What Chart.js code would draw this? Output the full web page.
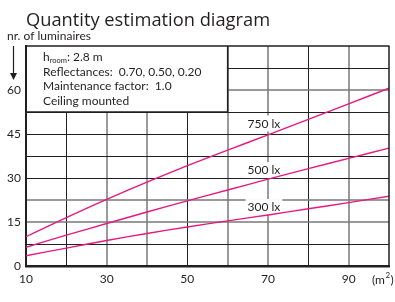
<!DOCTYPE html>
<html><head><meta charset="utf-8">
<script src="https://cdn.jsdelivr.net/npm/chart.js@4/dist/chart.umd.min.js"></script>
<style>html,body{margin:0;padding:0;background:#fff;}#wrap{width:395px;height:302px;position:relative}</style>
</head><body><div id="wrap"><canvas id="c" width="395" height="302"></canvas></div>
<script>
// ---- data ----
const areas   = [10, 20, 30, 40, 50, 60, 70, 80, 90, 100];
const lux750  = [10.0, 16.5, 22.7, 28.6, 34.2, 39.5, 44.7, 50.0, 55.3, 60.6];
const lux500  = [6.4, 10.5, 14.5, 18.4, 22.2, 25.9, 29.6, 33.2, 36.7, 40.2];
const lux300  = [3.5, 6.1, 8.7, 11.1, 13.3, 15.4, 17.4, 19.5, 21.6, 23.8];
const seriesNames = ['750 lx', '500 lx', '300 lx'];
const xTickLabels = [10, 30, 50, 70, 90];
const yTickLabels = [0, 15, 30, 45, 60];
const titleText = 'Quantity estimation diagram';
const yAxisTitle = 'nr. of luminaires';
const xUnit = 'm';
const infoLines = ['Reflectances:  0.70, 0.50, 0.20', 'Maintenance factor:  1.0', 'Ceiling mounted'];

const FONT = 'Lato, "Open Sans", sans-serif';
const TFONT = '"Open Sans", Lato, sans-serif';
const DARK = '#231f20';
const GRAY = 'rgba(120,120,120,0.75)';
const LINE = '#e6197f';

const toXY = arr => areas.map((a, i) => ({x: a, y: arr[i]}));

// label anchors (in data units) for the series names
const labelAnchors = [{x: 69, y: 48.6}, {x: 69, y: 32.7}, {x: 69, y: 20.1}];

const decor = {
  id: 'decor',
  beforeDatasetsDraw(chart) {
    const {ctx, scales: {x, y}} = chart;
    ctx.save();
    // info box
    const bx0 = x.getPixelForValue(10), bx1 = x.getPixelForValue(60);
    const by0 = y.getPixelForValue(75), by1 = y.getPixelForValue(52.5);
    ctx.fillStyle = '#fff';
    ctx.fillRect(bx0 + 1, by0, bx1 - bx0 - 1, by1 - by0);
    ctx.strokeStyle = DARK; ctx.lineWidth = 1.5;
    ctx.beginPath();
    ctx.moveTo(bx0, by1); ctx.lineTo(bx1, by1);
    ctx.moveTo(bx1, by0); ctx.lineTo(bx1, by1);
    ctx.stroke();
    ctx.fillStyle = DARK;
    ctx.textBaseline = 'alphabetic'; ctx.textAlign = 'left';
    const tx = bx0 + 17;
    let base = by0 + 15;
    ctx.font = '12px ' + FONT;
    ctx.fillText('h', tx, base);
    let w = ctx.measureText('h').width;
    ctx.font = '7.5px ' + FONT;
    ctx.fillText('room', tx + w, base + 1.5);
    w += ctx.measureText('room').width;
    ctx.font = '12px ' + FONT;
    ctx.fillText(': 2.8 m', tx + w, base);
    infoLines.forEach((t, i) => ctx.fillText(t, tx, base + 14.7 * (i + 1)));
    // series labels with white backgrounds
    ctx.font = '12px ' + FONT;
    ctx.textAlign = 'center'; ctx.textBaseline = 'middle';
    seriesNames.forEach((name, i) => {
      const px = x.getPixelForValue(labelAnchors[i].x);
      const py = y.getPixelForValue(labelAnchors[i].y);
      const tw = ctx.measureText(name).width;
      ctx.fillStyle = '#fff';
      ctx.fillRect(px - tw / 2 - 2, py - 8, tw + 4, 16);
      ctx.fillStyle = DARK;
      ctx.fillText(name, px, py + 0.5);
    });
    ctx.restore();
  },
  afterDraw(chart) {
    const {ctx, chartArea: ca} = chart;
    ctx.save();
    ctx.strokeStyle = DARK; ctx.lineWidth = 1.5;
    ctx.beginPath();
    ctx.moveTo(ca.left - 1, ca.top); ctx.lineTo(ca.right + 0.5, ca.top);
    ctx.moveTo(ca.right, ca.top); ctx.lineTo(ca.right, ca.bottom);
    ctx.stroke();
    ctx.fillStyle = DARK;
    ctx.textAlign = 'left'; ctx.textBaseline = 'alphabetic';
    ctx.font = '18.3px ' + TFONT;
    ctx.fillText(titleText, ca.left, 26);
    ctx.font = '12px ' + FONT;
    ctx.fillText(yAxisTitle, 7, 40);
    // arrow
    ctx.lineWidth = 1.2;
    ctx.beginPath(); ctx.moveTo(13.5, ca.top); ctx.lineTo(13.5, ca.top + 30); ctx.stroke();
    ctx.beginPath(); ctx.moveTo(10, ca.top + 27); ctx.lineTo(17, ca.top + 27); ctx.lineTo(13.5, ca.top + 34); ctx.closePath(); ctx.fill();
    // unit
    ctx.font = '12px ' + FONT;
    let ux = 372, uy = 283.5;
    ctx.fillText('(' + xUnit, ux, uy);
    ux += ctx.measureText('(' + xUnit).width;
    ctx.font = '8px ' + FONT;
    ctx.fillText('2', ux + 0.5, uy - 6);
    ux += ctx.measureText('2').width + 1;
    ctx.font = '12px ' + FONT;
    ctx.fillText(')', ux, uy);
    ctx.restore();
  }
};

const ds = (arr, name) => ({
  label: name, data: toXY(arr), borderColor: LINE, backgroundColor: LINE,
  borderWidth: 1.4, pointRadius: 0, tension: 0.25, fill: false
});

const xDark = [20, 50, 80];
const yDark = [7.5, 30, 37.5, 45, 52.5, 67.5];

new Chart(document.getElementById('c'), {
  type: 'line',
  data: { datasets: [ds(lux750, seriesNames[0]), ds(lux500, seriesNames[1]), ds(lux300, seriesNames[2])] },
  plugins: [decor],
  options: {
    responsive: false, animation: false, devicePixelRatio: 1,
    layout: { padding: { top: 46, right: 3, left: 0, bottom: 0 } },
    plugins: { legend: { display: false }, tooltip: { enabled: false }, title: { display: false } },
    scales: {
      x: {
        type: 'linear', min: 10, max: 100,
        afterFit: s => { s.height = 36; },
        ticks: { stepSize: 10, autoSkip: false, maxRotation: 0, padding: 6, color: DARK,
          font: { family: FONT, size: 12 },
          callback: v => xTickLabels.includes(v) ? String(v) : '' },
        grid: { drawTicks: false,
          color: c => (c.tick && (c.tick.value === 10 || c.tick.value === 100)) ? 'rgba(0,0,0,0)' : (xDark.includes(c.tick && c.tick.value) ? DARK : GRAY),
          lineWidth: c => xDark.includes(c.tick && c.tick.value) ? 1 : 2 },
        border: { display: true, color: DARK, width: 2.5 }
      },
      y: {
        min: 0, max: 75,
        afterFit: s => { s.width = 26; },
        ticks: { stepSize: 7.5, autoSkip: false, padding: 5, color: DARK,
          font: { family: FONT, size: 12 },
          callback: v => yTickLabels.includes(v) ? String(v) : '' },
        grid: { drawTicks: false,
          color: c => (c.tick && (c.tick.value === 0 || c.tick.value === 75)) ? 'rgba(0,0,0,0)' : (yDark.includes(c.tick && c.tick.value) ? DARK : GRAY),
          lineWidth: c => yDark.includes(c.tick && c.tick.value) ? 1 : 2 },
        border: { display: true, color: DARK, width: 2 }
      }
    }
  }
});
</script></body></html>
